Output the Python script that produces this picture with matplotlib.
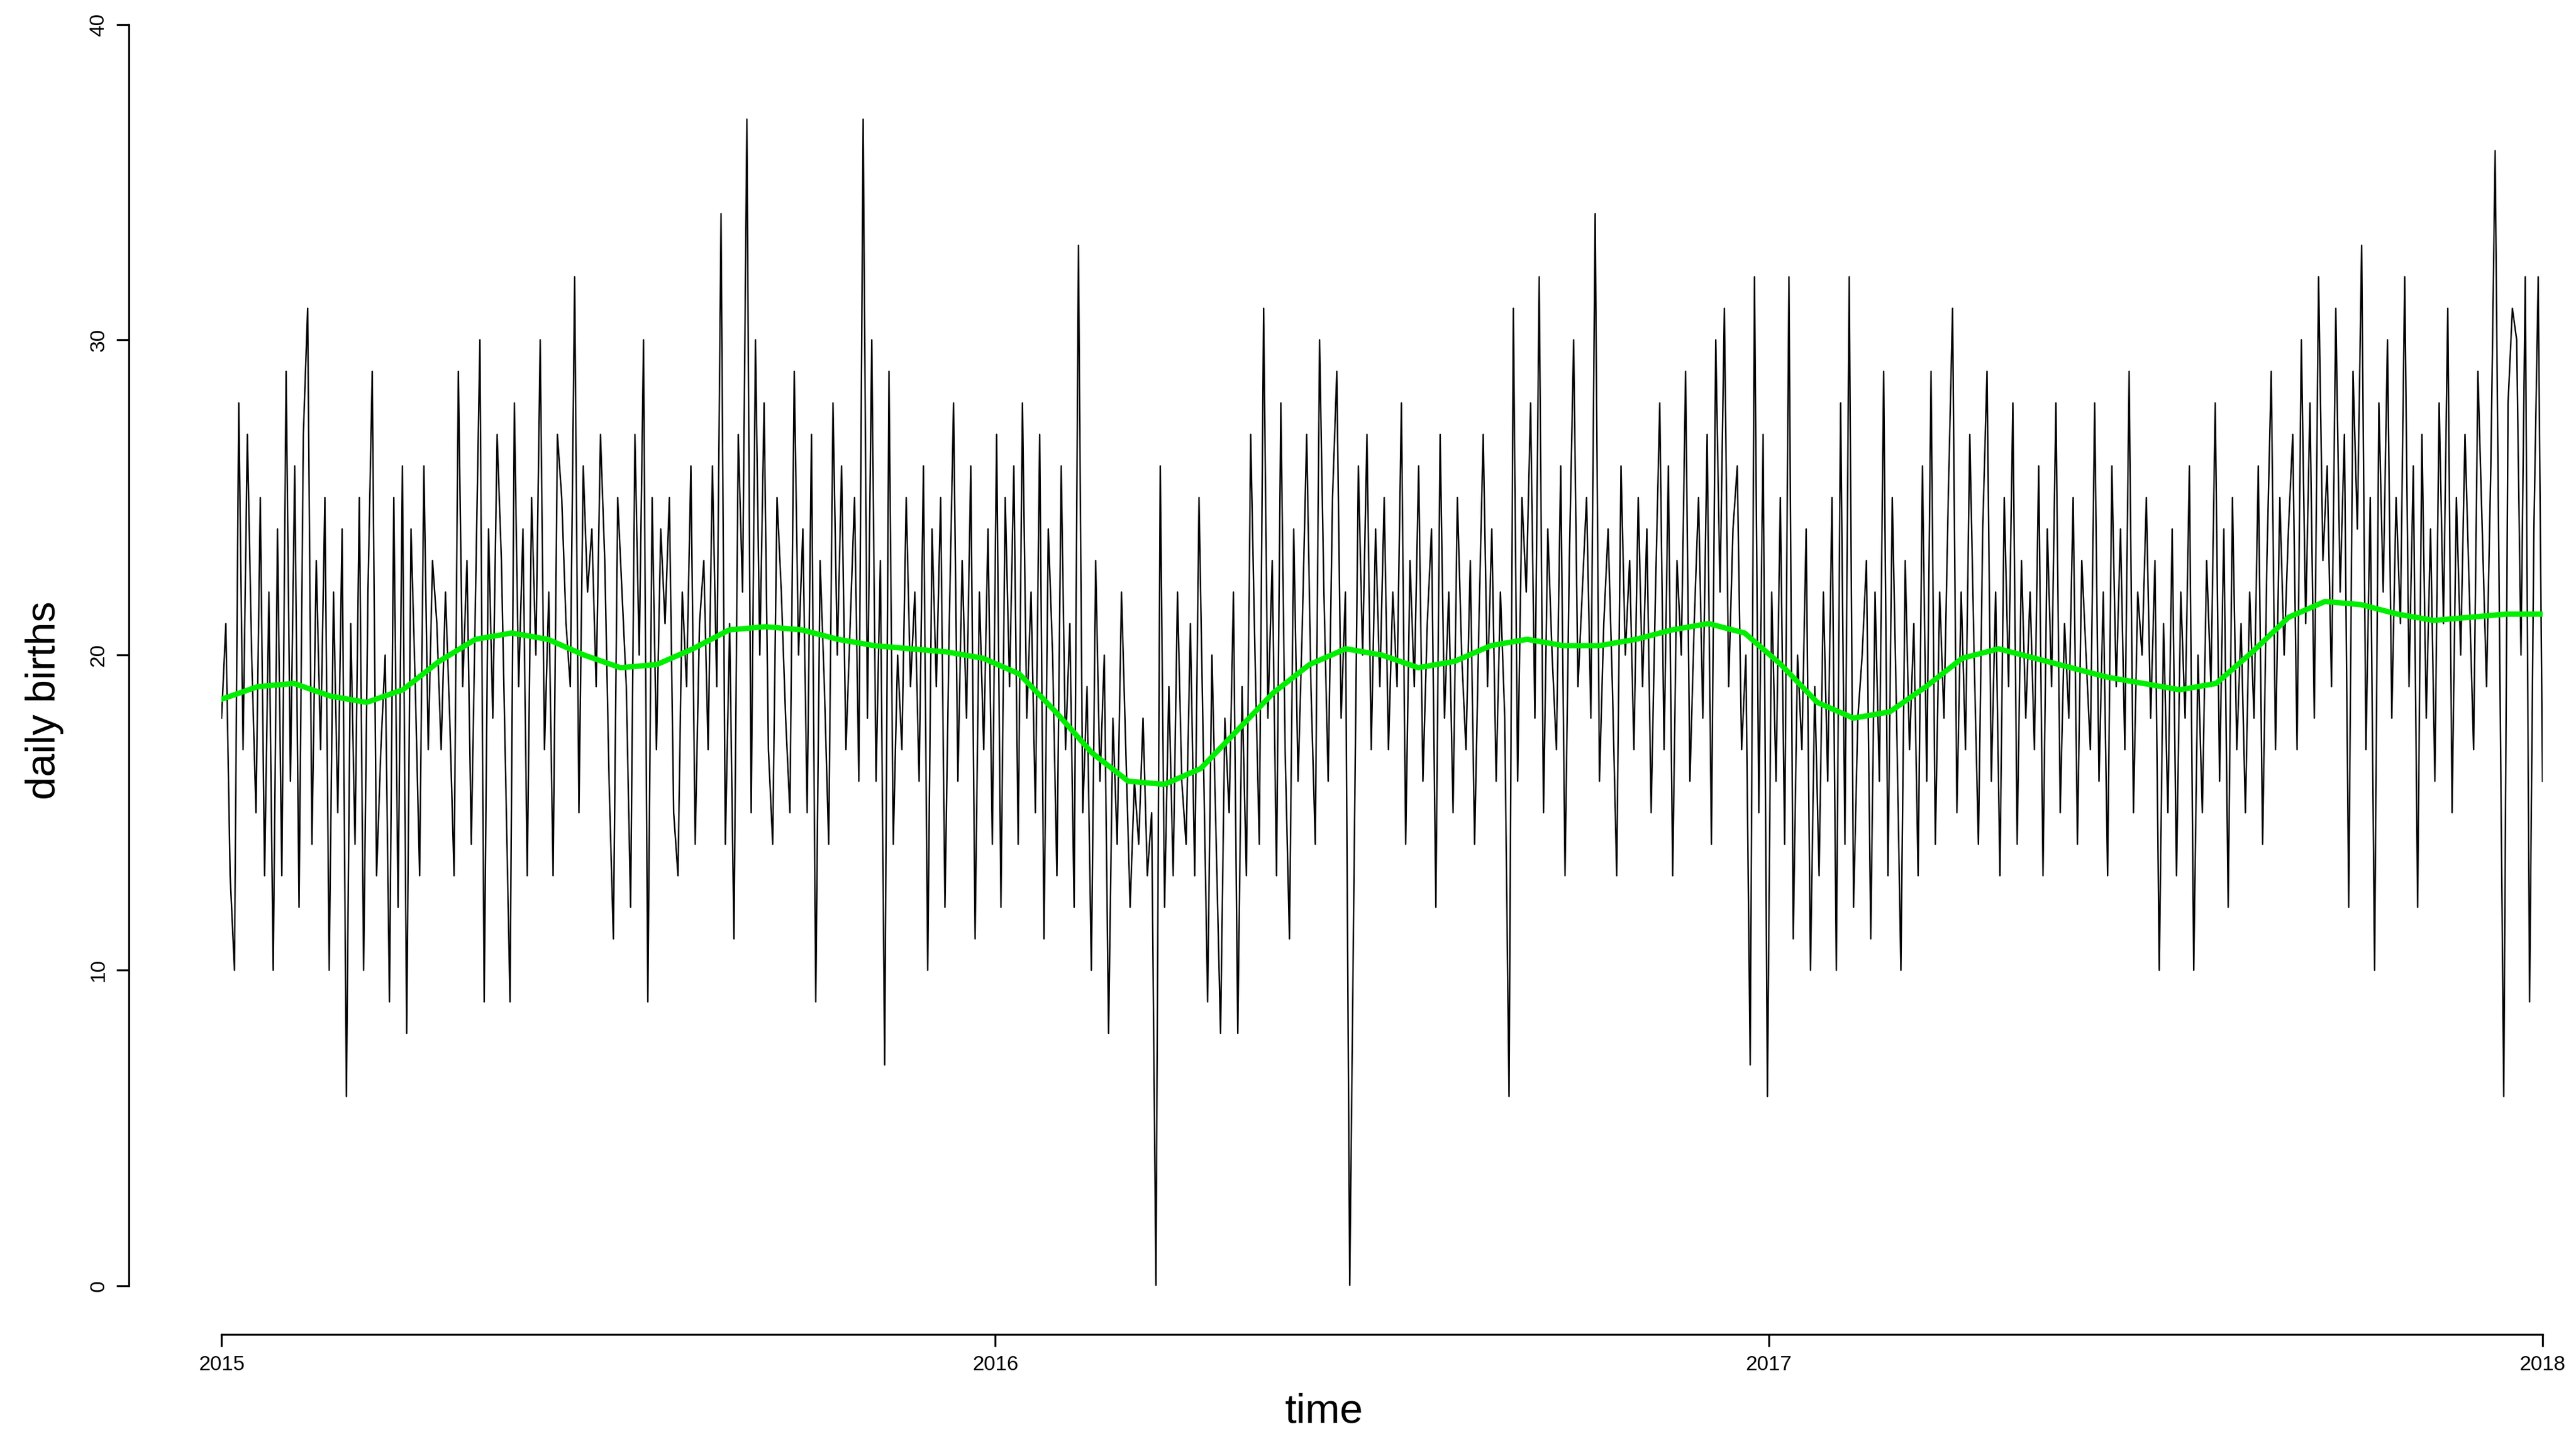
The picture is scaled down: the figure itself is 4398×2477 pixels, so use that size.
import matplotlib
matplotlib.use("Agg")
import matplotlib.pyplot as plt
import numpy as np

plt.rcParams['font.family'] = ['Liberation Sans', 'DejaVu Sans']

births = [
18,21,13,10,28,17,27,20,15,25,13,22,10,24,13,29,16,26,12,27,31,14,23,17,25,10,22,15,24,6,
21,14,25,10,22,29,13,17,20,9,25,12,26,8,24,19,13,26,17,23,21,17,22,18,13,29,19,23,14,22,
30,9,24,18,27,23,16,9,28,19,24,13,25,20,30,17,22,13,27,25,21,19,32,15,26,22,24,19,27,23,
16,11,25,22,19,12,27,20,30,9,25,17,24,21,25,15,13,22,19,26,14,21,23,17,26,19,34,14,21,11,
27,22,37,15,30,20,28,17,14,25,22,18,15,29,20,24,15,27,9,23,19,14,28,20,26,17,21,25,16,37,
18,30,16,23,7,29,14,20,17,25,19,22,16,26,10,24,19,25,12,21,28,16,23,18,26,11,22,17,24,14,
27,12,25,19,26,14,28,18,22,15,27,11,24,20,13,26,17,21,12,33,15,19,10,23,16,20,8,18,14,22,
17,12,16,14,18,13,15,0,26,12,19,13,22,16,14,21,13,25,17,9,20,14,8,18,15,22,8,19,13,27,
20,14,31,18,23,13,28,17,11,24,16,21,27,19,14,30,22,16,25,29,18,22,0,13,26,20,27,17,24,19,
25,17,22,19,28,14,23,19,26,16,21,24,12,27,18,22,15,25,20,17,23,14,21,27,19,24,16,22,18,6,
31,16,25,22,28,18,32,15,24,20,17,26,13,23,30,19,22,25,18,34,16,21,24,19,13,26,20,23,17,25,
19,24,15,22,28,17,26,13,23,20,29,16,21,25,18,27,14,30,22,31,19,24,26,17,20,7,32,15,27,6,
22,16,25,14,32,11,20,17,24,10,19,13,22,16,25,10,28,14,32,12,18,20,23,11,22,16,29,13,25,18,
10,23,17,21,13,26,16,29,14,22,18,25,31,15,22,17,27,20,14,24,29,16,22,13,25,19,28,14,23,18,
22,17,26,13,24,19,28,15,21,18,25,14,23,20,17,28,16,22,13,26,19,24,17,29,15,22,20,25,18,23,
10,21,15,24,13,22,18,26,10,20,15,23,19,28,16,24,12,25,17,21,15,22,18,26,14,23,29,17,25,20,
24,27,17,30,21,28,18,32,23,26,19,31,22,27,12,29,24,33,17,25,10,28,22,30,18,25,21,32,19,26,
12,27,18,24,16,28,21,31,15,25,20,27,22,17,29,24,19,26,36,21,6,28,31,30,20,32,9,24,32,16,
]

smooth = [18.6,19.0,19.1,18.7,18.5,18.9,19.8,20.5,20.7,20.5,20.0,19.6,19.7,20.2,20.8,20.9,20.8,20.5,20.3,20.2,20.1,
          19.9,19.4,18.2,16.9,16.0,15.9,16.4,17.6,18.8,19.7,20.2,20.0,19.6,19.8,20.3,20.5,20.3,20.3,20.5,20.8,
          21.0,20.7,19.7,18.5,18.0,18.2,19.0,19.9,20.2,19.9,19.6,19.3,19.1,18.9,19.1,20.1,21.2,21.7,21.6,21.3,
          21.1,21.2,21.3,21.3]

year_ticks = [2015, 2016, 2017, 2018]
y_ticks = [0, 10, 20, 30, 40]

t = np.linspace(2015, 2018, len(births))
ts = np.linspace(2015, 2018, len(smooth))

fig = plt.figure(figsize=(14.66, 8.257), dpi=300)
ax = fig.add_axes([0.086, 0.114, 0.901, 0.869])
ax.plot(t, births, color="black", lw=0.6)
ax.plot(ts, smooth, color="#00ee00", lw=2.2)
ax.set_xlim(2015, 2018)
ax.set_ylim(0, 40)
for s in ["top", "right"]:
    ax.spines[s].set_visible(False)
ax.spines["left"].set_position(("outward", 38))
ax.spines["bottom"].set_position(("outward", 20))
ax.spines["left"].set_bounds(0, 40)
ax.spines["bottom"].set_bounds(2015, 2018)
ax.set_xticks(year_ticks)
ax.set_xticklabels([str(y) for y in year_ticks])
ax.set_yticks(y_ticks)
ax.set_yticklabels([str(v) for v in y_ticks], rotation=90, va="center")
ax.tick_params(labelsize=8.5, length=5)
ax.set_xlabel("time", fontsize=17)
ax.set_ylabel("daily births", fontsize=17)
ax.xaxis.set_label_coords(0.475, -0.085)
ax.yaxis.set_label_coords(-0.068, 0.464)
fig.savefig("out.png", dpi=300)
